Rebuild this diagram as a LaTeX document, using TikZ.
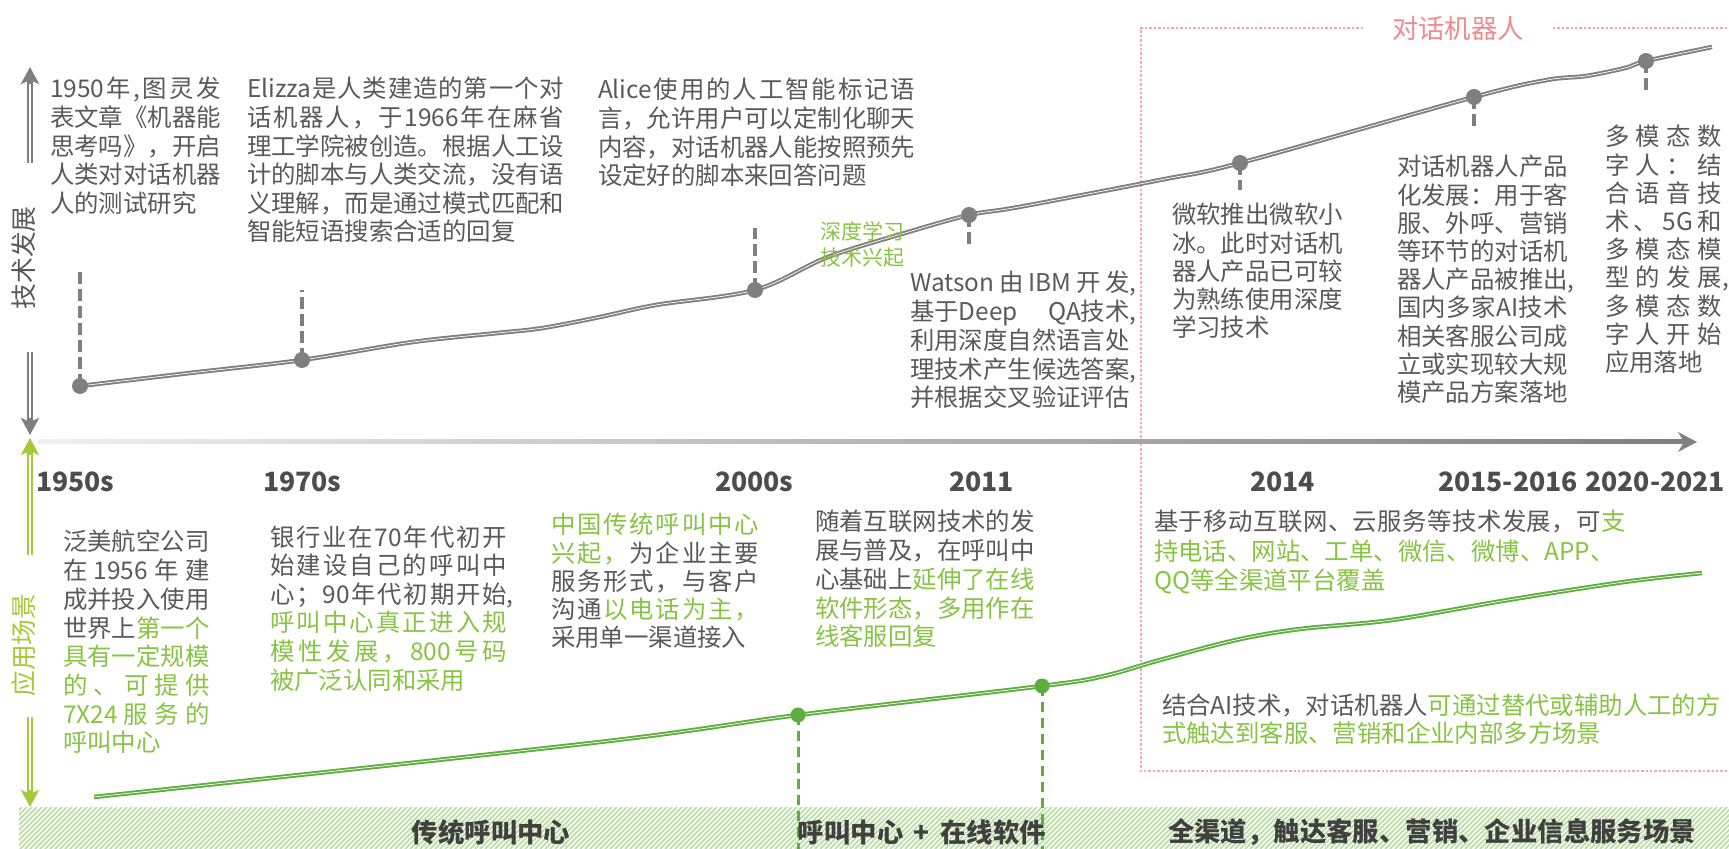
\documentclass[tikz,border=0pt]{standalone}
\usepackage{fontspec}
\setmainfont{Noto Sans CJK SC}
\usetikzlibrary{arrows.meta}
\definecolor{tk}{HTML}{595959}
\definecolor{tg}{HTML}{86C443}
\definecolor{cg}{HTML}{5DAE3F}
\definecolor{ag}{HTML}{A6C93A}
\definecolor{gc}{HTML}{7F7F7F}
\definecolor{pk}{HTML}{F08A8C}
\definecolor{pkl}{HTML}{F4A8A8}
\definecolor{hb}{HTML}{BFE0AA}
\definecolor{bt}{HTML}{404040}
\definecolor{yr}{HTML}{4D4D4D}
\makeatletter
\newcommand\G{\color{tg}}
\newcommand\K{\color{tk}}
\def\Gtok{\G}\def\Ktok{\K}
\newdimen\bw
\newcommand\J[2]{\hbox to #1{\@tfor\@tk:=#2\do{\ifx\@tk\Gtok\G\else\ifx\@tk\Ktok\K\else\@tk\hfil\fi\fi}\unskip}}
\newcommand\JL[1]{\hbox{\J{\bw}{#1}}}
\newcommand\JLs[2]{\hbox{\J{\bw}{#1}\rlap{#2}}}
\newcommand\LL[1]{\hbox{#1}}
\newcommand\blk[3][14.3pt]{\vtop{\bw=#2\relax\baselineskip=#1\relax #3}}
\makeatother
\begin{document}
\begin{tikzpicture}[x=0.5pt,y=-0.5pt,
  every node/.style={inner sep=0pt,outer sep=0pt,text=tk,font=\fontsize{12.2}{14.3}\selectfont},
  txt/.style={anchor=base west},
  year/.style={anchor=base west,text=yr,font=\fontsize{13.3}{16}\selectfont\bfseries},
  band/.style={text=bt,font=\fontsize{13.2}{15}\selectfont\bfseries},
  gdot/.style={circle,fill=gc,minimum size=8pt},
  cdot/.style={circle,fill=cg,minimum size=7.5pt},
  gdash/.style={gc,line width=1.6pt,dash pattern=on 6pt off 2.5pt},
  cdash/.style={cg,line width=1.5pt,dash pattern=on 5pt off 3pt},
  gcurve/.style={draw=gc,double=white,line width=0.95pt,double distance=0.35pt},
  ccurve/.style={draw=cg,double=white,line width=0.95pt,double distance=0.35pt},
  pkline/.style={pkl,line width=0.6pt,dash pattern=on 1.2pt off 1pt}]
\useasboundingbox (0,0) rectangle (1729,849);
% ---- hatched band
\begin{scope}
\clip (19,807) rectangle (1729,849);
\foreach \i in {-45,-40,...,1730} \draw[hb,line width=1pt] (\i,849) -- ++(42,-42);
\end{scope}
% ---- pink dotted box
\node[text=pk,font=\fontsize{13.2}{15}\selectfont] (ttl) at (1458,28) {对话机器人};
\coordinate (pa) at (1363,28);
\coordinate (pb) at (1141,28);
\coordinate (pc) at (1141,771);
\coordinate (pd) at (1729,771);
\coordinate (pe) at (1553,28);
\coordinate (pf) at (1729,28);
\draw[pkline] (pa) -- (pb) -- (pc) -- (pd);
\draw[pkline] (pe) -- (pf);
% ---- vertical axis arrows
\draw[gc,line width=3pt,-{Stealth[length=8.5pt,width=9pt,inset=2pt]}] (30,163) -- (30,67);
\draw[white,line width=1pt] (30,164) -- (30,84);
\draw[gc,line width=3pt,-{Stealth[length=8.5pt,width=9pt,inset=2pt]}] (30,352) -- (30,435);
\draw[white,line width=1pt] (30,351) -- (30,418);
\draw[ag,line width=3pt,-{Stealth[length=8.5pt,width=9pt,inset=2pt]}] (30,555) -- (30,438);
\draw[white,line width=1pt] (30,556) -- (30,455);
\draw[ag,line width=3pt,-{Stealth[length=8.5pt,width=9pt,inset=2pt]}] (30,717) -- (30,807);
\draw[white,line width=1pt] (30,716) -- (30,790);
\node[rotate=90,font=\fontsize{12.9}{15}\selectfont] (lt) at (24,258) {技术发展};
\node[rotate=90,text=ag,font=\fontsize{12.9}{15}\selectfont] (la) at (24,645) {应用场景};
% ---- horizontal axis
\shade[left color=black!6,right color=black!50] (38,440) rectangle (1684,444);
\fill[black!50] (1697,442) -- (1678,432) -- (1684,442) -- (1678,452) -- cycle;
% ---- years
\node[year] (y1) at (36,492) {1950s};
\node[year] (y2) at (263,492) {1970s};
\node[year] (y3) at (715,492) {2000s};
\node[year] (y4) at (949,492) {2011};
\node[year] (y5) at (1250,492) {2014};
\node[year] (y6) at (1438,492) {2015-2016};
\node[year,anchor=base east] (y7) at (1725,492) {2020-2021};
% ---- gray curve and dots
\coordinate (e1) at (1712,47);
\draw[gcurve] plot[smooth,tension=0.55] coordinates {(80,386) (190,373) (302,360) (413,342) (498,333) (543,328) (600,317) (656,305) (755,290) (828,257) (905,233) (969,215) (1019,207) (1160,180) (1240,163) (1474,97) (1547,80) (1586,76) (1625,68) (1646,61) (e1)};
\coordinate (u1) at (80,268);
\coordinate (u2) at (302,290);
\coordinate (u3) at (755,228);
\coordinate (u4) at (969,247);
\coordinate (u5) at (1240,190);
\coordinate (u6) at (1474,128);
\coordinate (u7) at (1646,92);
\node[gdot] (d1) at (80,386) {};
\node[gdot] (d2) at (302,360) {};
\node[gdot] (d3) at (755,290) {};
\node[gdot] (d4) at (969,215) {};
\node[gdot] (d5) at (1240,163) {};
\node[gdot] (d6) at (1474,97) {};
\node[gdot] (d7) at (1646,61) {};
\foreach \a/\b in {d1/u1,d2/u2,d3/u3,d4/u4,d5/u5,d6/u6,d7/u7} \draw[gdash] (\a.center) -- (\b);
% ---- green curve and dots
\coordinate (g0) at (94,797);
\coordinate (g9) at (1702,573);
\draw[ccurve] plot[smooth,tension=0.55] coordinates {(g0) (600,742) (798,715) (1042,686) (1104,676) (1160,660) (1236,640) (1300,629) (1392,620) (1508,600) (1624,582) (g9)};
\coordinate (v1) at (798,849);
\coordinate (v2) at (1042,849);
\node[cdot] (ca) at (798,715) {};
\node[cdot] (cb) at (1042,686) {};
\draw[cdash] (ca.center) -- (v1);
\draw[cdash] (cb.center) -- (v2);
% ---- band texts
\node[band] (bd1) at (491,832) {传统呼叫中心};
\node[band] (bd2) at (922,832) {呼叫中心\, + \,在线软件};
\node[band] (bd3) at (1432,832) {全渠道，触达客服、营销、企业信息服务场景};
% ---- upper text blocks
\node[txt] (b1) at (50,98) {\blk{7em}{%
 \JL{{1950}年,图灵发}
 \JL{表文章《机器能}
 \JL{思考吗》，开启}
 \JL{人类对对话机器}
 \LL{人的测试研究}}};
\node[txt] (b2) at (247,98) {\blk{13em}{%
 \JL{{Elizza}是人类建造的第一个对}
 \JL{话机器人，于{1966}年在麻省}
 \JL{理工学院被创造。根据人工设}
 \JL{计的脚本与人类交流，没有语}
 \JL{义理解，而是通过模式匹配和}
 \LL{智能短语搜索合适的回复}}};
\node[txt] (b3) at (598,99) {\blk{13em}{%
 \JL{{Alice}使用的人工智能标记语}
 \JL{言，允许用户可以定制化聊天}
 \JL{内容，对话机器人能按照预先}
 \LL{设定好的脚本来回答问题}}};
\node[txt,text=tg,font=\fontsize{10.5}{13}\selectfont] (b4) at (820,240) {\blk[13pt]{4em}{%
 \LL{深度学习}
 \LL{技术兴起}}};
\node[txt] (b5) at (910,292) {\blk[14.35pt]{9em}{%
 \JLs{{Watson}由{IBM}开发}{,}
 \LL{\hbox to\bw{基于Deep\hfil QA技术}\rlap{,}}
 \JL{利用深度自然语言处}
 \JLs{理技术产生候选答案}{,}
 \LL{并根据交叉验证评估}}};
\node[txt] (b6) at (1172,224) {\blk[14.1pt]{7em}{%
 \JL{微软推出微软小}
 \JL{冰。此时对话机}
 \JL{器人产品已可较}
 \JL{为熟练使用深度}
 \LL{学习技术}}};
\node[txt] (b7) at (1397,176) {\blk[14.1pt]{7em}{%
 \JL{对话机器人产品}
 \JL{化发展：用于客}
 \JL{服、外呼、营销}
 \JL{等环节的对话机}
 \JLs{器人产品被推出}{,}
 \JL{国内多家{AI}技术}
 \JL{相关客服公司成}
 \JL{立或实现较大规}
 \LL{模产品方案落地}}};
\node[txt] (b8) at (1605,146) {\blk[14.1pt]{58.5pt}{%
 \JL{多模态数}
 \JL{字人：结}
 \JL{合语音技}
 \JL{术、{5G}和}
 \JL{多模态模}
 \JLs{型的发展}{,}
 \JL{多模态数}
 \JL{字人开始}
 \LL{应用落地}}};
% ---- lower text blocks
\node[txt] (b9) at (63,551) {\blk[14.35pt]{6em}{%
 \JL{泛美航空公司}
 \JL{在{1956}年建}
 \JL{成并投入使用}
 \JL{世界上\G 第一个}
 \JL{\G 具有一定规模}
 \JL{\G 的、可提供}
 \JL{\G{7X24}服务的}
 \LL{\G 呼叫中心}}};
\node[txt] (b10) at (270,546) {\blk[14.3pt]{118.5pt}{%
 \JL{银行业在{70}年代初开}
 \JL{始建设自己的呼叫中}
 \JLs{心；{90}年代初期开始}{,}
 \JL{\G 呼叫中心真正进入规}
 \JL{\G 模性发展，{800}号码}
 \LL{\G 被广泛认同和采用}}};
\node[txt] (b11) at (551,534) {\blk[14.1pt]{104pt}{%
 \JL{\G 中国传统呼叫中心}
 \JL{\G 兴起，\K 为企业主要}
 \JL{服务形式，与客户}
 \JL{沟通\G 以电话为主，}
 \LL{采用单一渠道接入}}};
\node[txt] (b12) at (815,531) {\blk[14.35pt]{9em}{%
 \JL{随着互联网技术的发}
 \JL{展与普及，在呼叫中}
 \JL{心基础上\G 延伸了在线}
 \JL{\G 软件形态，多用作在}
 \LL{\G 线客服回复}}};
\node[txt] (b13) at (1154,531) {\blk[14.5pt]{236pt}{%
 \JL{基于移动互联网、云服务等技术发展，可\G 支}
 \LL{\G 持电话、网站、工单、微信、微博、APP、}
 \LL{\G QQ等全渠道平台覆盖}}};
\node[txt] (b14) at (1162,714) {\blk[14pt]{20em}{%
 \LL{结合AI技术，对话机器人\G 可通过替代或辅助人工的方}
 \LL{\G 式触达到客服、营销和企业内部多方场景}}};
\end{tikzpicture}
\end{document}
